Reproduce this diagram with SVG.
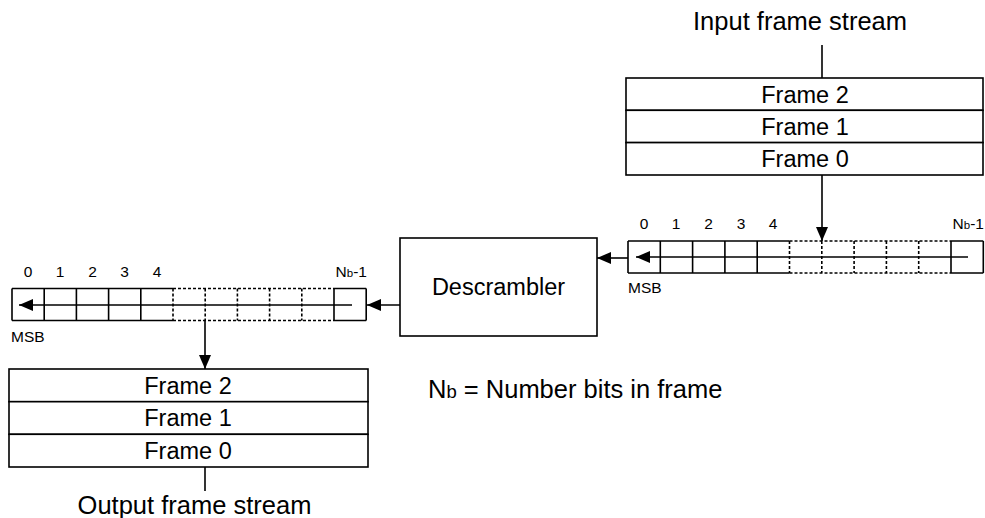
<svg xmlns="http://www.w3.org/2000/svg" width="985" height="518" viewBox="0 0 985 518">
<style>
.t{font-family:"Liberation Sans",Arial,sans-serif;fill:#000;}
.big{font-size:23.5px;}
.lab{font-size:25.5px;}
.sm{font-size:15.5px;}
.box{fill:#fff;stroke:#000;stroke-width:1.6;}
.ln{stroke:#000;stroke-width:1.6;fill:none;}
.dash{stroke:#000;stroke-width:1.6;fill:none;stroke-dasharray:3,2;}
</style>
<defs>
<marker id="ah" markerUnits="userSpaceOnUse" markerWidth="15" markerHeight="13" refX="14" refY="6" orient="auto">
<path d="M0,0 L14,6 L0,12 z" fill="#000"/>
</marker>
</defs>
<rect width="985" height="518" fill="#fff"/>

<text class="t lab" x="800" y="30" text-anchor="middle">Input frame stream</text>

<g id="input-stack">
<rect class="box" x="626" y="78" width="357" height="32.3"/>
<rect class="box" x="626" y="110.3" width="357" height="32.3"/>
<rect class="box" x="626" y="142.6" width="357" height="32.4"/>
<text class="t big" x="805" y="102.5" text-anchor="middle">Frame 2</text>
<text class="t big" x="805" y="135" text-anchor="middle">Frame 1</text>
<text class="t big" x="805" y="167" text-anchor="middle">Frame 0</text>
</g>

<g id="input-register">
<path class="ln" d="M628,241 H789.5 M628,273 H789.5 M951,241 H983.3 M951,273 H983.3 M628,241 V273 M660.3,241 V273 M692.6,241 V273 M724.9,241 V273 M757.2,241 V273 M951,241 V273 M983.3,241 V273"/>
<path class="dash" d="M789.5,241 H951 M789.5,273 H951 M789.5,241 V273 M821.8,241 V273 M854.1,241 V273 M886.4,241 V273 M918.7,241 V273"/>
<line class="ln" x1="968" y1="257" x2="636" y2="257" marker-end="url(#ah)"/>
<g class="t sm" text-anchor="middle">
<text x="644" y="229">0</text>
<text x="676" y="229">1</text>
<text x="708.5" y="229">2</text>
<text x="741" y="229">3</text>
<text x="773" y="229">4</text>
</g>
<text class="t sm" x="984" y="229" text-anchor="end">N<tspan font-size="11.5">b</tspan>-1</text>
<text class="t sm" x="628" y="293">MSB</text>
</g>

<g id="descrambler">
<rect class="box" x="400" y="238" width="197" height="98"/>
<text class="t big" x="498.5" y="295" text-anchor="middle">Descrambler</text>
</g>

<g id="output-register">
<path class="ln" d="M12,288.5 H173 M12,320.5 H173 M334,288.5 H366.2 M334,320.5 H366.2 M12,288.5 V320.5 M44.2,288.5 V320.5 M76.4,288.5 V320.5 M108.6,288.5 V320.5 M140.8,288.5 V320.5 M334,288.5 V320.5 M366.2,288.5 V320.5"/>
<path class="dash" d="M173,288.5 H334 M173,320.5 H334 M173,288.5 V320.5 M205.2,288.5 V320.5 M237.4,288.5 V320.5 M269.6,288.5 V320.5 M301.8,288.5 V320.5"/>
<line class="ln" x1="352" y1="305" x2="19" y2="305" marker-end="url(#ah)"/>
<g class="t sm" text-anchor="middle">
<text x="28" y="277">0</text>
<text x="60" y="277">1</text>
<text x="92.5" y="277">2</text>
<text x="124.5" y="277">3</text>
<text x="157" y="277">4</text>
</g>
<text class="t sm" x="367" y="277" text-anchor="end">N<tspan font-size="11.5">b</tspan>-1</text>
<text class="t sm" x="11" y="342">MSB</text>
</g>

<g id="output-stack">
<rect class="box" x="9" y="369" width="359" height="32.7"/>
<rect class="box" x="9" y="401.7" width="359" height="32.6"/>
<rect class="box" x="9" y="434.3" width="359" height="32.7"/>
<text class="t big" x="188" y="393.5" text-anchor="middle">Frame 2</text>
<text class="t big" x="188" y="426" text-anchor="middle">Frame 1</text>
<text class="t big" x="188" y="458.5" text-anchor="middle">Frame 0</text>
</g>

<text class="t lab" x="194.5" y="514" text-anchor="middle">Output frame stream</text>

<text class="t lab" x="428" y="398">N<tspan font-size="18.5">b</tspan> = Number bits in frame</text>

<g id="connectors">
<line class="ln" x1="822" y1="45" x2="822" y2="78"/>
<line class="ln" x1="822" y1="175" x2="822" y2="241" marker-end="url(#ah)"/>
<line class="ln" x1="628" y1="258" x2="597" y2="258" marker-end="url(#ah)"/>
<line class="ln" x1="400" y1="305" x2="367" y2="305" marker-end="url(#ah)"/>
<line class="ln" x1="205" y1="321" x2="205" y2="369" marker-end="url(#ah)"/>
<line class="ln" x1="205" y1="467" x2="205" y2="491"/>
</g>
</svg>
